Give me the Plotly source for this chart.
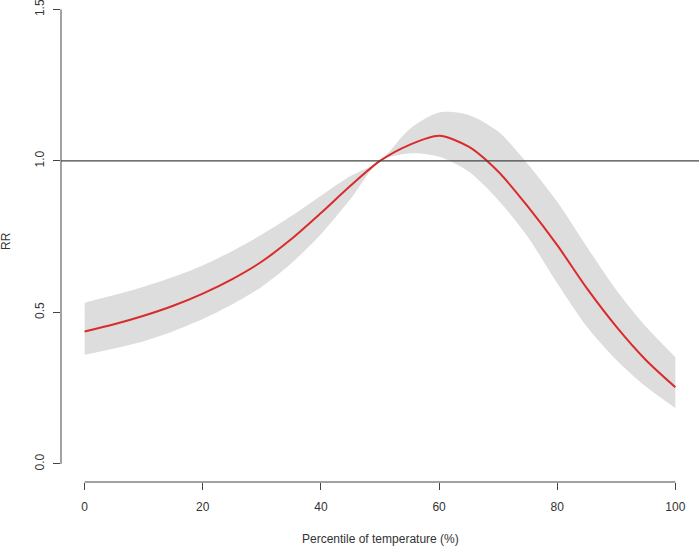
import plotly.graph_objects as go

# percentile of temperature
pct = [0, 5, 10, 15, 20, 25, 30, 35, 40, 45, 50, 55, 60, 65, 70, 75, 80, 85, 90, 95, 100]
# relative risk and 95% CI
rr = [0.437, 0.461, 0.489, 0.522, 0.562, 0.610, 0.668, 0.742, 0.828, 0.918, 1.000,
      1.053, 1.083, 1.047, 0.965, 0.850, 0.722, 0.580, 0.453, 0.343, 0.253]
rr_high = [0.532, 0.557, 0.585, 0.617, 0.655, 0.703, 0.757, 0.818, 0.885, 0.950, 1.000,
           1.105, 1.160, 1.152, 1.097, 0.990, 0.865, 0.717, 0.574, 0.453, 0.352]
rr_low = [0.360, 0.381, 0.405, 0.438, 0.478, 0.527, 0.585, 0.662, 0.758, 0.874, 1.000,
          1.025, 1.014, 0.965, 0.871, 0.750, 0.596, 0.453, 0.343, 0.255, 0.184]

x_ticks = [0, 20, 40, 60, 80, 100]
y_ticks = [0.0, 0.5, 1.0, 1.5]

X_RANGE = [-4, 104]
Y_RANGE = [-0.06, 1.5314]

FONT = "Liberation Sans, Arial, sans-serif"
AXIS_COL = "#444444"
TEXT_COL = "#333333"

fig = go.Figure()

# confidence band
fig.add_trace(go.Scatter(
    x=pct, y=rr_high, mode="lines", line=dict(width=0, shape="spline", smoothing=0.8),
    hoverinfo="skip", showlegend=False,
))
fig.add_trace(go.Scatter(
    x=pct, y=rr_low, mode="lines", line=dict(width=0, shape="spline", smoothing=0.8),
    fill="tonexty", fillcolor="#DDDDDD", hoverinfo="skip", showlegend=False,
))

# reference line at RR = 1
fig.add_hline(y=1.0, line_color=AXIS_COL, line_width=1.3, layer="above")

# RR curve
fig.add_trace(go.Scatter(
    x=pct, y=rr, mode="lines",
    line=dict(color="#D92B2B", width=2, shape="spline", smoothing=0.8),
    showlegend=False,
))

# R-style axis lines that only span the ticks
fig.add_shape(type="line", xref="paper", yref="y", x0=0, x1=0,
              y0=y_ticks[0], y1=y_ticks[-1], line=dict(color=AXIS_COL, width=1))
fig.add_shape(type="line", xref="x", yref="paper", x0=x_ticks[0], x1=x_ticks[-1],
              y0=0, y1=0, line=dict(color=AXIS_COL, width=1))

fig.update_xaxes(
    range=X_RANGE, tickvals=x_ticks, ticks="outside", ticklen=7,
    tickcolor=AXIS_COL, showgrid=False, zeroline=False, showline=False,
    ticklabelstandoff=7, ticklabeloverflow="allow",
    tickfont=dict(size=12, color=TEXT_COL, family=FONT),
)
fig.update_yaxes(
    range=Y_RANGE, tickvals=y_ticks, tickformat=".1f", ticks="outside", ticklen=7,
    tickcolor=AXIS_COL, showgrid=False, zeroline=False, showline=False,
    tickangle=-90, ticklabelstandoff=4, ticklabeloverflow="allow",
    tickfont=dict(size=12, color=TEXT_COL, family=FONT),
)

fig.add_annotation(text="Percentile of temperature (%)", xref="paper", yref="paper",
                   x=0.5, y=0, yshift=-57, showarrow=False, yanchor="middle",
                   font=dict(size=12, color=TEXT_COL, family=FONT))
fig.add_annotation(text="RR", xref="paper", yref="paper", x=0, xshift=-55,
                   y=0.5, showarrow=False, textangle=-90, xanchor="center",
                   font=dict(size=12, color=TEXT_COL, family=FONT))

fig.update_layout(
    width=700, height=548,
    margin=dict(l=61, r=1, t=0, b=66),
    plot_bgcolor="white", paper_bgcolor="white",
)

fig.write_html("out.html", config={"displayModeBar": False},
               post_script="document.body.style.margin = '0';")
